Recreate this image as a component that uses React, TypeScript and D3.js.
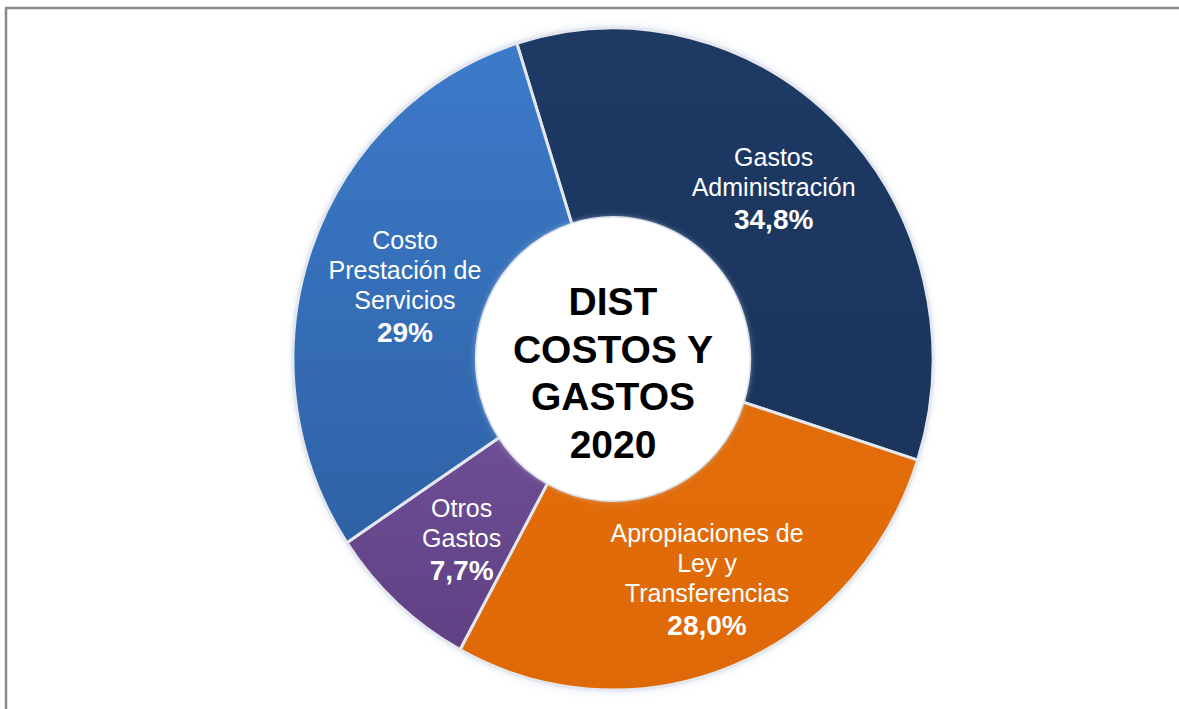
import * as d3 from 'd3';
import { useEffect } from 'react';

const W = 1179;
const H = 709;

// slices in drawing order, clockwise from the top-left seam
const categories = ['Gastos Administración', 'Apropiaciones de Ley y Transferencias', 'Otros Gastos', 'Costo Prestación de Servicios'];
const shares = [34.8, 28.0, 7.7, 29.5];
const pctLabels = ['34,8%', '28,0%', '7,7%', '29%'];
const labelLines = [
  ['Gastos', 'Administración'],
  ['Apropiaciones de', 'Ley y', 'Transferencias'],
  ['Otros', 'Gastos'],
  ['Costo', 'Prestación de', 'Servicios'],
];
const centerTitle = ['DIST', 'COSTOS Y', 'GASTOS', '2020'];

const fills = [
  ['#1d3a65', '#193257'],
  ['#e8720f', '#de6906'],
  ['#8868b2', '#5d3e82'],
  ['#3d7bcb', '#2a5b9b'],
];

// the source picture is a bit taller than wide
const cx = 613;
const cy = 359;
const outerR = 325.5;
const innerR = 139;
const sx = 0.983;
const sy = 1.017;
const startDeg = -17.5;

// hand nudges for the label boxes (Excel didn't centre them on the centroid)
const nudge = [
  [-13, 1],
  [3, -8],
  [14, -2],
  [23, 7],
];

export default function App() {
  useEffect(() => {
    document.body.style.margin = '0';
  }, []);

  const pie = d3
    .pie<number>()
    .sort(null)
    .startAngle((startDeg * Math.PI) / 180)
    .endAngle((startDeg * Math.PI) / 180 + 2 * Math.PI);
  const arcs = pie(shares);
  const arc = d3.arc<d3.PieArcDatum<number>>().innerRadius(innerR).outerRadius(outerR);
  const labelArc = d3.arc<d3.PieArcDatum<number>>().innerRadius(245).outerRadius(245);

  const lineH = 30;

  return (
    <svg width={W} height={H} style={{ display: 'block', background: '#fff' }}>
      <defs>
        {fills.map((f, i) => (
          <linearGradient key={i} id={`g${i}`} gradientUnits="userSpaceOnUse" x1={0} y1={-outerR} x2={0} y2={outerR}>
            <stop offset="0%" stopColor={f[0]} />
            <stop offset="100%" stopColor={f[1]} />
          </linearGradient>
        ))}
        <filter id="glow" x="-10%" y="-10%" width="120%" height="120%">
          <feDropShadow dx="0" dy="0" stdDeviation="4" floodColor="#9fb6d6" floodOpacity="0.5" />
        </filter>
        <filter id="inner" x="-20%" y="-20%" width="140%" height="140%">
          <feDropShadow dx="0" dy="0" stdDeviation="3" floodColor="#c8d4e4" floodOpacity="0.8" />
        </filter>
      </defs>

      {/* frame */}
      <line x1={5} y1={8} x2={W} y2={8} stroke="#8a8a8a" strokeWidth={2.5} />
      <line x1={6} y1={8} x2={6} y2={H} stroke="#8a8a8a" strokeWidth={2.5} />

      <g transform={`translate(${cx},${cy}) scale(${sx},${sy})`}>
        <circle r={outerR} fill="#fff" filter="url(#glow)" />
        {arcs.map((a, i) => (
          <path key={categories[i]} d={arc(a) || ''} fill={`url(#g${i})`} stroke="#e4e8ee" strokeWidth={3} strokeLinejoin="round" />
        ))}
        <circle r={innerR} fill="#fff" filter="url(#inner)" />
      </g>

      <g transform={`translate(${cx},${cy})`}>
        {arcs.map((a, i) => {
          const [lx0, ly0] = labelArc.centroid(a);
          const lx = lx0 + nudge[i][0];
          const ly = ly0 + nudge[i][1];
          const lines = labelLines[i];
          const n = lines.length + 1;
          const top = ly - ((n - 1) * lineH) / 2;
          return (
            <text
              key={'l' + i}
              textAnchor="middle"
              fill="#fff"
              fontFamily="Liberation Sans, Arial, sans-serif"
              fontSize={25}
              dominantBaseline="central"
            >
              {lines.map((t, k) => (
                <tspan key={k} x={lx} y={top + k * lineH}>
                  {t}
                </tspan>
              ))}
              <tspan x={lx} y={top + lines.length * lineH + 2} fontWeight="bold" fontSize={28}>
                {pctLabels[i]}
              </tspan>
            </text>
          );
        })}

        <text
          textAnchor="middle"
          fontFamily="Liberation Sans, Arial, sans-serif"
          fontWeight="bold"
          fontSize={39}
          fill="#000"
          dominantBaseline="central"
        >
          {centerTitle.map((t, k) => (
            <tspan key={k} x={0} y={-58 + k * 47.5}>
              {t}
            </tspan>
          ))}
        </text>
      </g>
    </svg>
  );
}
